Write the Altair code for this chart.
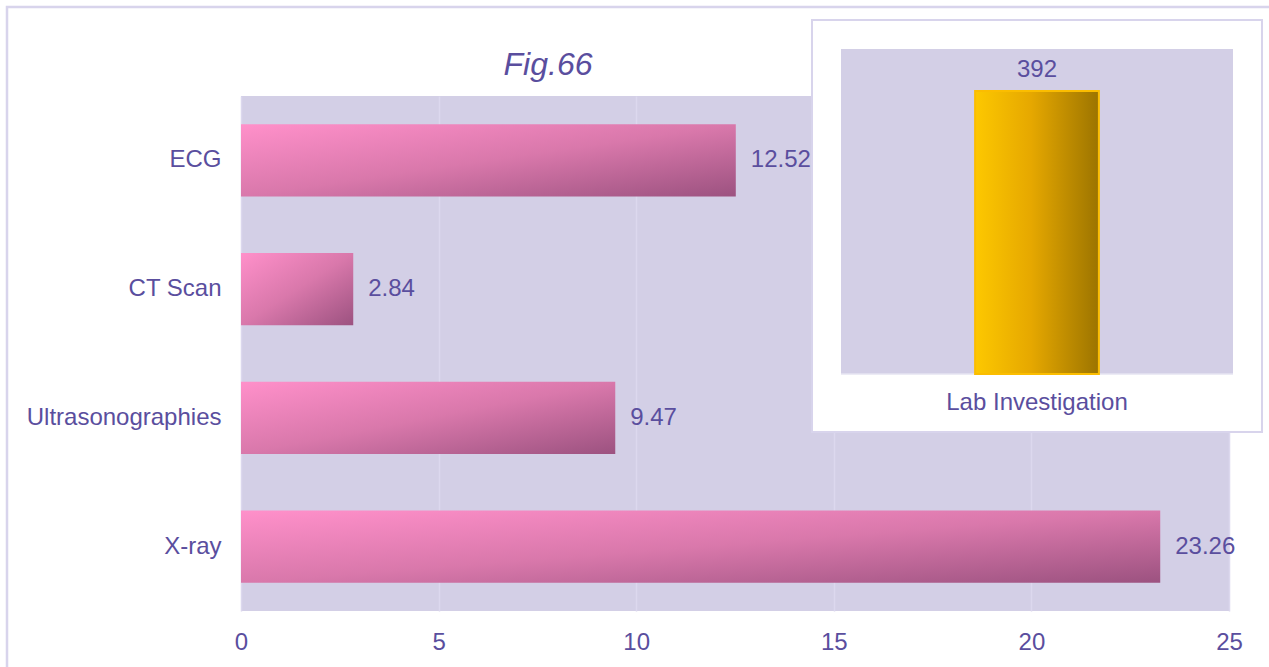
import altair as alt
import pandas as pd

# Main panel: examinations per category
categories = ["ECG", "CT Scan", "Ultrasonographies", "X-ray"]
values = [12.52, 2.84, 9.47, 23.26]
x_ticks = [0, 5, 10, 15, 20, 25]

# Inset panel: laboratory investigations
lab_categories = ["Lab Investigation"]
lab_values = [392]

TEXT = "#5a4e9e"
FONT = "Liberation Sans"
PANEL = "#d3cfe6"
FRAME = "#d8d4ec"
FS = 24

W, H = 988, 515          # main plot area
LEFT, TOP = 241, 96      # plot area offset inside the page

main_df = pd.DataFrame({"category": categories, "value": values})
lab_df = pd.DataFrame({"category": lab_categories, "value": lab_values})
one = pd.DataFrame({"k": [0]})

pink = alt.Gradient(
    gradient="linear",
    stops=[
        alt.GradientStop(color="#ff90ca", offset=0),
        alt.GradientStop(color="#d978ab", offset=0.5),
        alt.GradientStop(color="#9c5280", offset=1),
    ],
    x1=0, y1=0, x2=1, y2=1,
)
gold = alt.Gradient(
    gradient="linear",
    stops=[
        alt.GradientStop(color="#fdc800", offset=0),
        alt.GradientStop(color="#e6a800", offset=0.45),
        alt.GradientStop(color="#9c7400", offset=1),
    ],
    x1=0, y1=0, x2=1, y2=0,
)

x_main = alt.X(
    "value:Q",
    scale=alt.Scale(domain=[0, 25], nice=False),
    axis=alt.Axis(
        values=x_ticks, title=None, grid=True, gridColor="#dcd8ee", gridWidth=1.5,
        domain=False, ticks=False, labelFontSize=FS, labelColor=TEXT,
        labelPadding=19, labelFont=FONT, labelFlush=False,
    ),
)
y_main = alt.Y(
    "category:N",
    sort=categories,
    scale=alt.Scale(paddingInner=0.44, paddingOuter=0.22),
    axis=alt.Axis(
        title=None, domain=False, ticks=False, labelFontSize=FS, labelColor=TEXT,
        labelPadding=20, labelFont=FONT, labelLimit=400,
    ),
)

bars = alt.Chart(main_df).mark_bar(color=pink).encode(x=x_main, y=y_main)
bar_labels = alt.Chart(main_df).mark_text(
    align="left", baseline="middle", dx=15, fontSize=FS, color=TEXT, font=FONT
).encode(x=x_main, y=y_main, text=alt.Text("value:Q", format=".2f"))
main = alt.layer(bars, bar_labels)

# Outer frame of the figure
frame = alt.Chart(one).mark_rect(
    fill="white", fillOpacity=0, stroke=FRAME, strokeWidth=2.5
).encode(
    x=alt.value(7 - LEFT), x2=alt.value(1269 - LEFT + 20),
    y=alt.value(7 - TOP), y2=alt.value(667 - TOP + 20),
)

# Figure caption above the plot area
caption = alt.Chart(one).mark_text(
    text="Fig.66", align="center", baseline="alphabetic", fontSize=32,
    fontStyle="italic", color=TEXT, font=FONT,
).encode(x=alt.value(548 - LEFT), y=alt.value(75 - TOP))

# Inset box and its plot background
inset_box = alt.Chart(one).mark_rect(
    fill="white", stroke=FRAME, strokeWidth=2
).encode(
    x=alt.value(812 - LEFT), x2=alt.value(1262 - LEFT),
    y=alt.value(20 - TOP), y2=alt.value(432 - TOP),
)
IX0, IX1 = 841 - LEFT, 1233 - LEFT
IY0, IY1 = 374 - TOP, 49 - TOP
inset_bg = alt.Chart(one).mark_rect(fill=PANEL).encode(
    x=alt.value(IX0), x2=alt.value(IX1), y=alt.value(IY1), y2=alt.value(IY0),
)
inset_base = alt.Chart(one).mark_rule(color="#e6e4f2", strokeWidth=1.5).encode(
    x=alt.value(IX0), x2=alt.value(IX1), y=alt.value(IY0),
)

x_lab = alt.X(
    "category:N",
    scale=alt.Scale(range=[IX0, IX1], paddingInner=0.52, paddingOuter=0.52),
    axis=None,
)
y_lab = alt.Y(
    "value:Q",
    scale=alt.Scale(domain=[0, 450], range=[IY0, IY1], nice=False),
    axis=None,
)
lab_bar = alt.Chart(lab_df).mark_bar(
    color=gold, stroke="#fbbd00", strokeWidth=2
).encode(x=x_lab, y=y_lab)
lab_value = alt.Chart(lab_df).mark_text(
    baseline="alphabetic", dy=-14, fontSize=FS, color=TEXT, font=FONT
).encode(x=x_lab, y=y_lab, text=alt.Text("value:Q"))
lab_name = alt.Chart(lab_df).mark_text(
    baseline="middle", fontSize=FS, color=TEXT, font=FONT
).encode(x=x_lab, y=alt.value(403 - TOP), text="category:N")
inset = alt.layer(lab_bar, lab_value, lab_name)

chart = (
    alt.layer(frame, caption, main, inset_box, inset_bg, inset_base, inset)
    .resolve_scale(x="independent", y="independent")
    .resolve_axis(x="independent", y="independent")
    .properties(
        width=W,
        height=H,
        autosize=alt.AutoSizeParams(type="none"),
        padding={"left": LEFT, "top": TOP, "right": 1269 - LEFT - W, "bottom": 667 - TOP - H},
        background="white",
    )
    .configure_view(fill=PANEL, strokeWidth=0)
)

chart.save("out.html", embed_options={"renderer": "svg", "actions": False})
